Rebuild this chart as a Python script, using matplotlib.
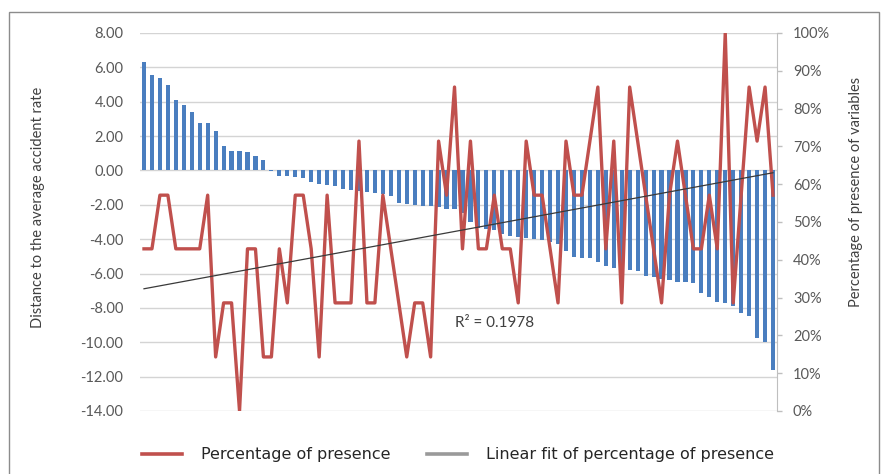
import numpy as np
import matplotlib
matplotlib.use("Agg")
import matplotlib.pyplot as plt
from matplotlib.lines import Line2D
from matplotlib.patches import Rectangle
from matplotlib.ticker import FuncFormatter

plt.rcParams['font.family'] = ['Lato', 'DejaVu Sans']

# Distance to the average accident rate (bars, left axis)
distance = [6.31, 5.53, 5.38, 4.99, 4.12, 3.79, 3.40, 2.78, 2.78, 2.29,
            1.42, 1.13, 1.13, 1.07, 0.83, 0.58, -0.05, -0.30, -0.33, -0.38,
            -0.45, -0.70, -0.80, -0.84, -0.88, -1.10, -1.16, -1.18, -1.26, -1.30,
            -1.38, -1.50, -1.88, -1.94, -2.00, -2.04, -2.08, -2.14, -2.22, -2.27,
            -2.45, -3.00, -3.35, -3.40, -3.45, -3.70, -3.80, -3.90, -3.95, -4.00,
            -4.02, -4.15, -4.26, -4.70, -5.04, -5.10, -5.10, -5.33, -5.56, -5.65,
            -5.72, -5.80, -5.88, -6.15, -6.21, -6.30, -6.37, -6.47, -6.52, -6.56,
            -7.15, -7.34, -7.63, -7.73, -7.88, -8.31, -8.47, -9.77, -9.96, -11.61]

# Percentage of presence (red line, right axis)
presence = [42.9, 42.9, 57.1, 57.1, 42.9, 42.9, 42.9, 42.9, 57.1, 14.3,
            28.6, 28.6, 0.0, 42.9, 42.9, 14.3, 14.3, 42.9, 28.6, 57.1,
            57.1, 42.9, 14.3, 57.1, 28.6, 28.6, 28.6, 71.4, 28.6, 28.6,
            57.1, 42.9, 28.6, 14.3, 28.6, 28.6, 14.3, 71.4, 57.1, 85.7,
            42.9, 71.4, 42.9, 42.9, 57.1, 42.9, 42.9, 28.6, 71.4, 57.1,
            57.1, 42.9, 28.6, 71.4, 57.1, 57.1, 71.4, 85.7, 42.9, 71.4,
            28.6, 85.7, 71.4, 57.1, 42.9, 28.6, 57.1, 71.4, 57.1, 42.9,
            42.9, 57.1, 42.9, 100.0, 28.6, 57.1, 85.7, 71.4, 85.7, 57.1]

left_ticks = [8, 6, 4, 2, 0, -2, -4, -6, -8, -10, -12, -14]
right_ticks = [0, 10, 20, 30, 40, 50, 60, 70, 80, 90, 100]
r2_label = "R\u00b2 = 0.1978"

W, H = 885, 474
fig = plt.figure(figsize=(W / 100, H / 100), dpi=100)
fig.patch.set_facecolor('white')

ax = fig.add_axes([140 / W, 1 - 411 / H, 637 / W, 378 / H])
x = np.arange(len(distance))
ax.bar(x, distance, width=0.52, color='#4A7EBF', zorder=2)
ax.set_xlim(-0.5, len(distance) - 0.5)
ax.set_ylim(-14, 8)
ax.set_yticks(left_ticks)
ax.yaxis.set_major_formatter(FuncFormatter(lambda v, p: f"{v:.2f}"))
ax.set_xticks([])
ax.yaxis.grid(True, color='#D4D4D4', lw=1.0)
ax.set_axisbelow(True)
for s in ax.spines.values():
    s.set_visible(False)
ax.tick_params(axis='y', length=0, pad=12, labelsize=10.5, labelcolor='#595959')

ax2 = ax.twinx()
ax2.plot(x, presence, color='#C0504D', lw=2.4, zorder=3)
coef = np.polyfit(x, presence, 1)
ax2.plot(x, np.polyval(coef, x), color='#3A3A3A', lw=0.9, zorder=4)
ax2.set_ylim(0, 100)
ax2.set_yticks(right_ticks)
ax2.yaxis.set_major_formatter(FuncFormatter(lambda v, p: f"{int(v)}%"))
for k, s in ax2.spines.items():
    s.set_visible(k == 'right')
ax2.spines['right'].set_color('#BFBFBF')
ax2.tick_params(axis='y', direction='out', length=3.5, width=1, color='#BFBFBF',
                pad=8, labelsize=10.5, labelcolor='#595959')
ax2.set_xlim(-0.5, len(distance) - 0.5)

fig.text(38 / W, 1 - 207 / H, "Distance to the average accident rate", rotation=90,
         ha='center', va='center', fontsize=10.5, color='#404040')
fig.text(856 / W, 1 - 192 / H, "Percentage of presence of variables", rotation=90,
         ha='center', va='center', fontsize=10.5, color='#404040')
fig.text(455 / W, 1 - 323 / H, r2_label, ha='left', va='center', fontsize=11,
         color='#404040')

handles = [Line2D([], [], color='#C0504D', lw=2.6),
           Line2D([], [], color='#9A9A9A', lw=2.6)]
labels = ["Percentage of presence", "Linear fit of percentage of presence"]
fig.legend(handles, labels, loc='center', bbox_to_anchor=(458 / W, 1 - 455 / H),
           ncol=2, frameon=False, handlelength=2.5, handletextpad=1.2,
           columnspacing=2.3, labelcolor='#262626',
           prop={'family': ['DejaVu Sans'], 'size': 11.5})

fig.patches.append(Rectangle((9 / W, -0.05), (879 - 9) / W, (H - 12) / H + 0.05,
                             transform=fig.transFigure, fill=False,
                             edgecolor='#8C8C8C', lw=1.0))

fig.savefig("out.png", dpi=100)
